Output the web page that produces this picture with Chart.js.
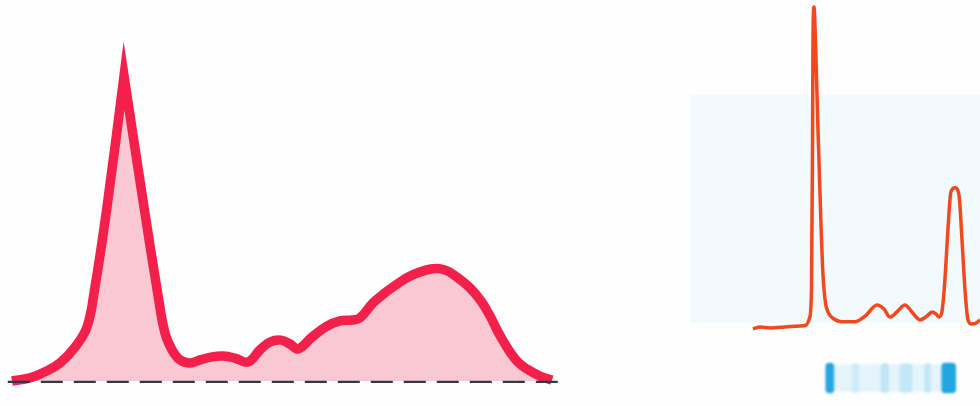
<!DOCTYPE html>
<html>
<head>
<meta charset="utf-8">
<script src="https://cdn.jsdelivr.net/npm/chart.js@4.4.1/dist/chart.umd.min.js"></script>
<style>
  html, body { margin: 0; padding: 0; background: #fefefe; }
  body { width: 980px; height: 406px; position: relative; overflow: hidden; }
  canvas, .panel { position: absolute; }
  #blueBack { left: 690px; top: 95px; width: 290px; height: 228px; background: #f2fafd; }
  #gelChart { filter: blur(1.1px); }
</style>
</head>
<body>
<canvas id="leftChart" width="600" height="406" style="left:0;top:0"></canvas>
<div class="panel" id="blueBack"></div>
<canvas id="rightChart" width="300" height="345" style="left:680px;top:0"></canvas>
<canvas id="gelChart" width="300" height="44" style="left:680px;top:356px"></canvas>
<script>
// Left densitogram: migration distance (%) vs relative absorbance (peak = 100)
const leftX = [2, 5, 7.5, 10, 12.5, 14.5, 15.75, 17.83, 20.67, 20.67, 24, 26.33, 27.5, 28.67, 30, 31.67,
  33.33, 35.33, 37.17, 39.17, 41.33, 43.33, 45, 46.83, 48.33, 49.67, 52, 54.5, 56.67, 58.67, 60,
  62.17, 64.17, 66, 68.33, 71.83, 74.17, 76.33, 78.33, 80.17, 81.67, 83, 84.67, 86.33, 87.83, 90, 92];
const leftY = [0, 1, 3, 5.9, 11.1, 17.7, 29.8, 57, 100, 100, 57, 28.2, 15.7, 10.2, 6.9, 5.9,
  6.9, 7.9, 8.2, 7.5, 6.2, 10.2, 12.8, 13.4, 12.1, 10.5, 14.4, 18, 19.7, 20, 20.7,
  25.6, 28.9, 31.5, 34.4, 36.7, 36.4, 33.8, 30.5, 26.2, 21.3, 16.1, 10.5, 6.2, 3.9, 1.6, 0.3];
const baselineX = [1.3, 94.2];
const baselineY = [-0.3, -0.3];

// Right densitogram + gel strip share the same migration axis
const rightX = [24.3, 26.7, 30, 35, 40, 42, 43.17, 43.83, 44.17, 44.33, 44.67, 45.1, 46, 47, 47.67, 48.5,
  49.5, 51.33, 55, 58.3, 61.7, 65.7, 68, 70, 72.3, 75, 77.3, 80, 82.3, 84, 85.3, 86.3, 87.3, 88.3,
  89.3, 90.3, 91.7, 93, 94, 95, 96, 97.3, 98.7, 100];
const rightY = [-0.9, -0.3, -0.6, -0.3, 0, 0.3, 2.5, 11.3, 55.2, 89.7, 100, 91.2, 61.4, 31.7, 16, 7.2,
  4.1, 2.2, 1.3, 1.3, 3.1, 6.6, 5.3, 2.8, 4.4, 6.6, 4.4, 1.9, 3.1, 4.4, 3.8, 2.8, 4.4, 14.4,
  30, 42, 43.3, 41, 27, 11.3, 1.9, 0.6, 0.9, 1.9];

// Gel bands: start/end on the migration axis and stain intensity (0-1)
const bandStart = [48.6, 57.5, 67, 73.3, 81.5, 87.2];
const bandEnd = [51.3, 59.5, 69.5, 77.3, 83.5, 91.9];
const bandIntensity = [0.95, 0.12, 0.2, 0.18, 0.18, 0.95];
const smearStart = [51];
const smearEnd = [87.5];

const toPoints = (xs, ys) => xs.map((x, i) => ({ x, y: ys[i] }));

const baseOptions = (xMin, xMax, yMin, yMax) => ({
  responsive: false,
  animation: false,
  layout: { padding: 0 },
  plugins: { legend: { display: false }, tooltip: { enabled: false } },
  elements: { point: { radius: 0 } },
  scales: {
    x: { type: 'linear', display: false, min: xMin, max: xMax },
    y: { type: 'linear', display: false, min: yMin, max: yMax }
  }
});

// --- Left chart ---
new Chart(document.getElementById('leftChart'), {
  type: 'line',
  data: {
    datasets: [
      {
        data: toPoints(baselineX, baselineY),
        borderColor: '#2c3b44',
        borderWidth: 2.2,
        borderDash: [22, 11],
        fill: false,
        order: 0
      },
      {
        data: toPoints(leftX, leftY),
        borderColor: '#f3204b',
        backgroundColor: '#f9c8d3',
        borderWidth: 9.5,
        borderJoinStyle: 'miter',
        tension: 0.4,
        fill: 'origin',
        clip: false,
        order: 1
      }
    ]
  },
  options: baseOptions(0, 100, -8.2, 124.9)
});

// --- Right chart ---
new Chart(document.getElementById('rightChart'), {
  type: 'line',
  data: {
    datasets: [{
      data: toPoints(rightX, rightY),
      borderColor: '#f1481d',
      borderWidth: 3.5,
      borderJoinStyle: 'round',
      cubicInterpolationMode: 'monotone',
      fill: false,
      clip: false
    }]
  },
  options: baseOptions(0, 100, -5.96, 102.2)
});

// --- Gel strip ---
const gelOptions = baseOptions(0, 100, -1, 1);
gelOptions.indexAxis = 'y';
new Chart(document.getElementById('gelChart'), {
  type: 'bar',
  data: {
    datasets: [
      {
        data: smearStart.map((s, i) => ({ x: [s, smearEnd[i]], y: 0 })),
        backgroundColor: 'rgba(130, 205, 240, 0.2)',
        barThickness: 27,
        grouped: false,
        borderSkipped: false
      },
      {
        data: bandStart.map((s, i) => ({ x: [s, bandEnd[i]], y: 0 })),
        backgroundColor: bandIntensity.map(a => `rgba(22, 160, 222, ${a})`),
        barThickness: 30,
        borderRadius: 4,
        grouped: false,
        borderSkipped: false
      }
    ]
  },
  options: gelOptions
});
</script>
</body>
</html>
